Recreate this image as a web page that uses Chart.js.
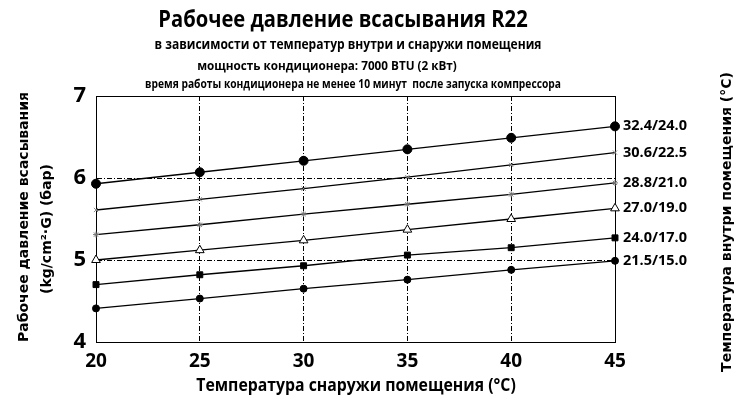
<!DOCTYPE html>
<html>
<head>
<meta charset="utf-8">
<script src="https://cdn.jsdelivr.net/npm/chart.js@4.4.1/dist/chart.umd.min.js"></script>
<style>
  html, body { margin: 0; padding: 0; background: #fff; }
  #wrap { width: 742px; height: 411px; }
</style>
</head>
<body>
<div id="wrap"><canvas id="r22"></canvas></div>
<script>
// outdoor temperature, °C (x axis)
const outdoorTemps = [20, 25, 30, 35, 40, 45];
const pressureTicks = [4, 5, 6, 7];

// indoor dry/wet bulb temperature labels
const indoorLabels = ['32.4/24.0', '30.6/22.5', '28.8/21.0', '27.0/19.0', '24.0/17.0', '21.5/15.0'];

// suction pressure, bar
const p324 = [5.93, 6.07, 6.21, 6.35, 6.49, 6.63];
const p306 = [5.61, 5.74, 5.87, 6.01, 6.16, 6.31];
const p288 = [5.31, 5.43, 5.56, 5.68, 5.80, 5.94];
const p270 = [5.00, 5.12, 5.24, 5.37, 5.50, 5.63];
const p240 = [4.70, 4.82, 4.93, 5.06, 5.15, 5.27];
const p215 = [4.41, 4.53, 4.65, 4.76, 4.88, 4.99];

const sans = "'Open Sans', sans-serif";

function series(label, values, style, radius, fill, stroke) {
    return {
        label: label,
        data: values.map((v, i) => ({ x: outdoorTemps[i], y: v })),
        borderColor: '#000', borderWidth: 1.3,
        pointStyle: style, pointRadius: radius,
        pointBackgroundColor: fill, pointBorderColor: stroke, pointBorderWidth: 1,
        tension: 0, clip: false
    };
}

// narrow text, squeezed horizontally (looks like the Calibri in the original)
function squeezed(ctx, text, x, y, font, sx) {
    ctx.save();
    ctx.font = font;
    ctx.translate(x, y); ctx.scale(sx, 1);
    ctx.fillText(text, 0, 0);
    ctx.restore();
}

// titles, axis titles, end labels and frame
const decorations = {
    id: 'decorations',
    beforeDatasetsDraw(chart) {
        const { ctx, chartArea: a } = chart;
        ctx.save();
        ctx.strokeStyle = '#000'; ctx.lineWidth = 1;
        ctx.strokeRect(a.left + 0.5, a.top + 0.5, a.right - a.left, a.bottom - a.top);
        ctx.restore();
    },
    afterDraw(chart) {
        const { ctx, chartArea: a } = chart;
        ctx.save();
        ctx.fillStyle = '#000';
        ctx.textAlign = 'center'; ctx.textBaseline = 'middle';

        squeezed(ctx, 'Рабочее давление всасывания R22', 343, 20, 'bold 24px ' + sans, 0.84);
        squeezed(ctx, 'в зависимости от температур внутри и снаружи помещения', 348, 45, 'bold 14.5px ' + sans, 0.83);
        squeezed(ctx, 'мощность кондиционера: 7000 BTU (2 кВт)', 327, 66, 'bold 13px ' + sans, 0.9);
        squeezed(ctx, 'время работы кондиционера не менее 10 минут  после запуска компрессора', 353, 84, 'bold 12.5px ' + sans, 0.82);

        squeezed(ctx, 'Температура снаружи помещения (°C)', 356, 386, 'bold 17px ' + sans, 0.93);

        // left axis title, two lines
        ctx.font = 'bold 14px "DejaVu Sans", sans-serif';
        ctx.save();
        ctx.translate(24, 217); ctx.rotate(-Math.PI / 2);
        ctx.fillText('Рабочее давление всасывания', 0, 0);
        ctx.restore();
        ctx.save();
        ctx.translate(47, 229); ctx.rotate(-Math.PI / 2);
        ctx.fillText('(kg/cm²·G) (бар)', 0, 0);
        ctx.restore();

        // right axis title
        ctx.save();
        ctx.translate(727, 222); ctx.rotate(-Math.PI / 2);
        ctx.fillText('Температура внутри помещения (°C)', 0, 0);
        ctx.restore();

        // labels at the end of each line
        ctx.font = 'bold 14.5px ' + sans;
        ctx.textAlign = 'left';
        chart.data.datasets.forEach((ds, i) => {
            const pts = chart.getDatasetMeta(i).data;
            const last = pts[pts.length - 1];
            ctx.fillText(ds.label, a.right + 8, last.y);
        });
        ctx.restore();
    }
};

const edge = (v, lo, hi) => (v === lo || v === hi) ? 'rgba(0,0,0,0)' : '#000';

new Chart(document.getElementById('r22').getContext('2d'), {
    type: 'line',
    data: {
        datasets: [
            series(indoorLabels[0], p324, 'circle', 4.5, '#000', '#000'),
            series(indoorLabels[1], p306, 'crossRot', 3, '#888', '#888'),
            series(indoorLabels[2], p288, 'star', 3, '#777', '#777'),
            series(indoorLabels[3], p270, 'triangle', 5, '#fff', '#000'),
            series(indoorLabels[4], p240, 'rect', 4.2, '#000', '#000'),
            series(indoorLabels[5], p215, 'circle', 3.5, '#000', '#000')
        ]
    },
    options: {
        responsive: true, maintainAspectRatio: false, animation: false,
        layout: { padding: { left: 0, right: 127, top: 96, bottom: 0 } },
        plugins: { legend: { display: false }, tooltip: { enabled: false }, title: { display: false } },
        scales: {
            x: {
                type: 'linear', min: 20, max: 45,
                afterBuildTicks: s => { s.ticks = outdoorTemps.map(v => ({ value: v })); },
                afterFit: s => { s.height = 69; },
                grid: { color: c => edge(c.tick.value, 20, 45), lineWidth: 1, drawTicks: false },
                border: { display: true, color: '#000', dash: [5, 2, 1, 2] },
                ticks: { color: '#000', padding: 8, font: { family: sans, weight: 'bold', size: 19 } }
            },
            y: {
                type: 'linear', min: 4, max: 7,
                afterBuildTicks: s => { s.ticks = pressureTicks.map(v => ({ value: v })); },
                afterFit: s => { s.width = 96; },
                grid: { color: c => edge(c.tick.value, 4, 7), lineWidth: 1, drawTicks: false },
                border: { display: true, color: '#000', dash: [5, 2, 1, 2] },
                ticks: { color: '#000', padding: 10, font: { family: sans, weight: 'bold', size: 22 } }
            }
        }
    },
    plugins: [decorations]
});
</script>
</body>
</html>
